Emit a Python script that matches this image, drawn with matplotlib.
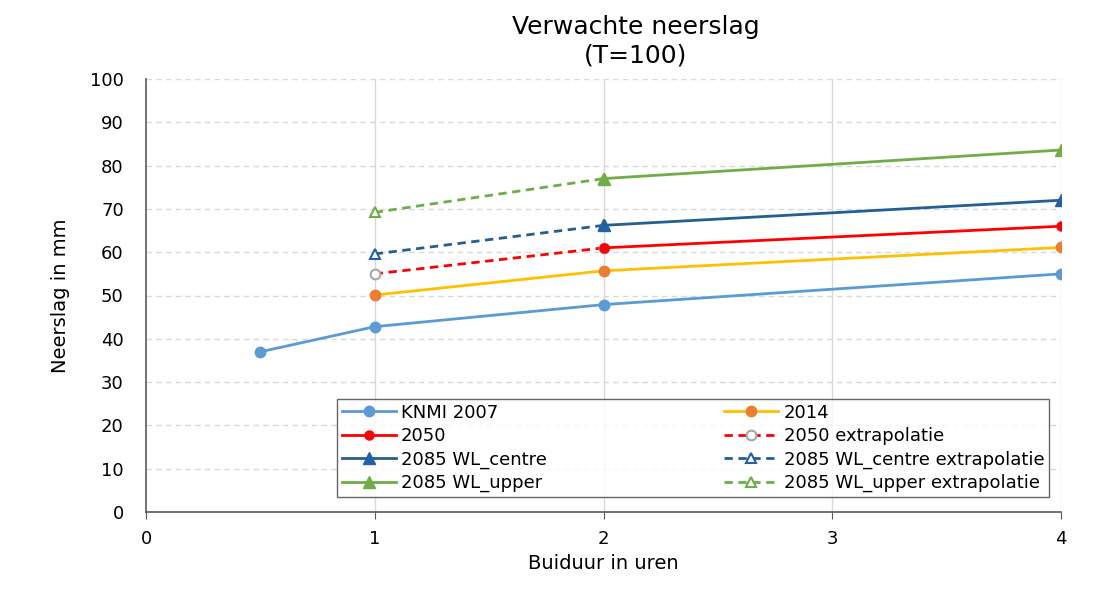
import matplotlib.pyplot as plt
import matplotlib as mpl

mpl.rcParams.update({"font.family": "DejaVu Sans"})

# data
knmi_x = [0.5, 1, 2, 4]
knmi_y = [37, 42.8, 47.9, 55]
y2014_x = [1, 2, 4]
y2014_y = [50.1, 55.7, 61.1]
y2050_x = [2, 4]
y2050_y = [61, 66]
y2050e_x = [1, 2]
y2050e_y = [55, 61]
centre_x = [2, 4]
centre_y = [66.2, 72]
centree_x = [1, 2]
centree_y = [59.6, 66.2]
upper_x = [2, 4]
upper_y = [77, 83.6]
uppere_x = [1, 2]
uppere_y = [69.2, 77]

BLUE = "#5B9BD5"; YEL = "#FFC000"; ORA = "#ED7D31"; RED = "#FF0000"
DBLUE = "#255E91"; DBLUE_M = "#1F62A8"; GREEN = "#70AD47"; GREY = "#A6A6A6"

fig = plt.figure(figsize=(11.18, 6.08), dpi=100)
ax = fig.add_axes([146/1118, 1-512/608, (1061-146)/1118, (512-79)/608])

lw = 2.0
h1, = ax.plot(knmi_x, knmi_y, "-o", color=BLUE, lw=lw, ms=7.5, zorder=3, label="KNMI 2007")
h2, = ax.plot(y2014_x, y2014_y, "-o", color=YEL, mfc=ORA, mec=ORA, lw=lw, ms=7.5, zorder=3, label="2014")
h4, = ax.plot(y2050e_x, y2050e_y, "--o", color=RED, mfc="white", mec=GREY, mew=1.5, lw=lw, ms=7,
              dashes=(3, 2), zorder=3, label="2050 extrapolatie")
h3, = ax.plot(y2050_x, y2050_y, "-o", color=RED, lw=lw, ms=6.5, zorder=4, label="2050")
h6, = ax.plot(centree_x, centree_y, "--^", color=DBLUE, mfc="white", mec=DBLUE_M, mew=1.5, lw=lw, ms=7,
              dashes=(3, 2), zorder=3, label="2085 WL_centre extrapolatie")
h5, = ax.plot(centre_x, centre_y, "-^", color=DBLUE, mfc=DBLUE_M, mec=DBLUE_M, lw=lw, ms=8.5, zorder=4,
              label="2085 WL_centre")
h8, = ax.plot(uppere_x, uppere_y, "--^", color=GREEN, mfc="white", mec=GREEN, mew=1.5, lw=lw, ms=7,
              dashes=(3, 2), zorder=3, label="2085 WL_upper extrapolatie")
h7, = ax.plot(upper_x, upper_y, "-^", color=GREEN, lw=lw, ms=8.5, zorder=4, label="2085 WL_upper")

ax.set_xlim(0, 4)
ax.set_ylim(0, 100)
ax.set_xticks([0, 1, 2, 3, 4])
ax.set_yticks(range(0, 101, 10))
for y in range(10, 101, 10):
    ax.axhline(y, color="#D9D9D9", lw=1, ls=(0, (4, 3)), zorder=1)
for x in [1, 2, 3, 4]:
    ax.axvline(x, color="#D9D9D9", lw=1, zorder=1)
for s in ["top", "right"]:
    ax.spines[s].set_visible(False)
for s in ["left", "bottom"]:
    ax.spines[s].set_color("#595959")
    ax.spines[s].set_linewidth(1.2)
ax.tick_params(axis="x", length=5, color="#595959", labelsize=13, pad=8)
ax.tick_params(axis="y", length=0, labelsize=13, pad=16)
ax.set_xlabel("Buiduur in uren", fontsize=14, labelpad=4)
ax.set_ylabel("Neerslag in mm", fontsize=14, labelpad=14)
tx = 636 / 1118
fig.text(tx, 1 - 27/608, "Verwachte neerslag", fontsize=18, ha="center", va="center")
fig.text(tx, 1 - 56/608, "(T=100)", fontsize=18, ha="center", va="center")

# column-major for matplotlib ncol=2: first column then second
order = [h1, h3, h5, h7, h2, h4, h6, h8]
leg = fig.legend(handles=order, labels=[h.get_label() for h in order], ncol=2,
                 bbox_to_anchor=(337/1118, 1-497/608, (1049-337)/1118, (497-399)/608),
                 loc="lower left", mode="expand", fontsize=13, frameon=True, fancybox=False,
                 borderaxespad=0, handlelength=3.0, handletextpad=0.3, labelspacing=0.3,
                 borderpad=0.25, columnspacing=1.0)
leg.get_frame().set_edgecolor("#404040")
leg.get_frame().set_linewidth(1.0)

fig.savefig("out.png", dpi=100)
